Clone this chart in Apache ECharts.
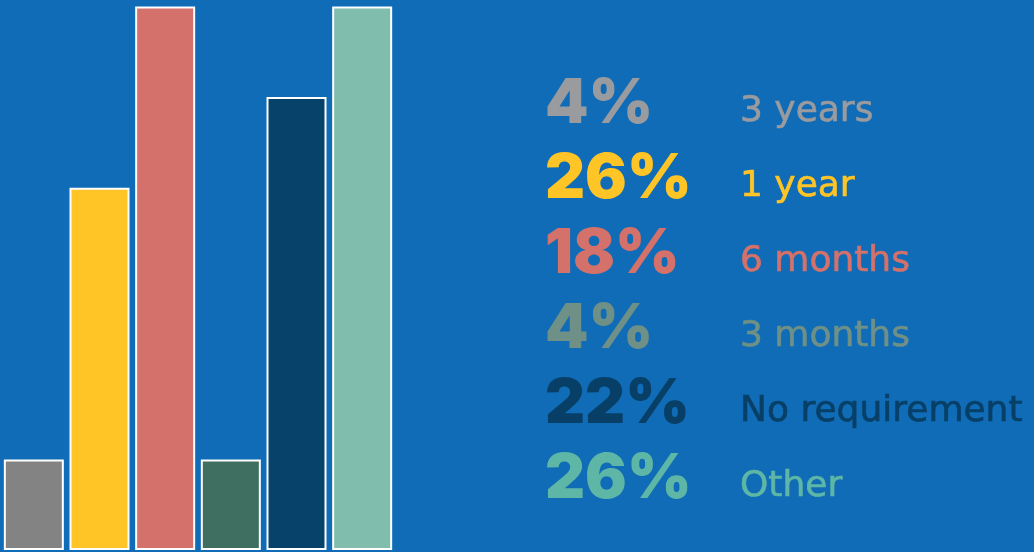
<!DOCTYPE html>
<html>
<head>
<meta charset="utf-8">
<script src="https://cdn.jsdelivr.net/npm/echarts@6/dist/echarts.min.js"></script>
<style>
  html, body { margin: 0; padding: 0; background: #106cb6; }
  #chart { width: 1034px; height: 552px; }
</style>
</head>
<body>
<div id="chart"></div>
<script>
// Answer categories, in bar order
const categories = ['3 years', '1 year', '6 months', '3 months', 'No requirement', 'Other'];
// Share of respondents per answer
const percents = [4, 26, 18, 4, 22, 26];
// Bar heights on the decorative 0–6 scale used by the column graphic
const barLevels = [1, 4, 6, 1, 5, 6];
// Bar fills and matching text colours
const barColors = ['#838383', '#ffc425', '#d4716a', '#3e6f60', '#07426a', '#80bdad'];
const textColors = ['#9a9b9f', '#ffc425', '#d4716a', '#6f9086', '#073f66', '#5eb7a6'];

const chart = echarts.init(document.getElementById('chart'), null, { renderer: 'canvas' });

const graphics = [];
categories.forEach((name, i) => {
  graphics.push({
    type: 'text',
    x: 545,
    y: 104 + 75 * i,
    style: {
      text: percents[i] + '%',
      fill: textColors[i],
      fontFamily: 'Inter',
      fontWeight: 900,
      fontSize: 62,
      align: 'left',
      verticalAlign: 'middle'
    }
  });
  graphics.push({
    type: 'text',
    x: 740,
    y: 112 + 75 * i,
    style: {
      text: name,
      fill: textColors[i],
      stroke: textColors[i],
      lineWidth: 0.6,
      fontFamily: 'DejaVu Sans',
      fontWeight: 'normal',
      fontSize: 36,
      align: 'left',
      verticalAlign: 'middle'
    }
  });
});

chart.setOption({
  backgroundColor: '#106cb6',
  animation: false,
  grid: { left: 1, width: 394, top: 6.5, bottom: 2 },
  xAxis: {
    type: 'category',
    data: categories,
    show: false
  },
  yAxis: {
    type: 'value',
    min: 0,
    max: 6,
    show: false
  },
  series: [{
    type: 'bar',
    barWidth: 60,
    data: barLevels.map((v, i) => ({
      value: v,
      itemStyle: { color: barColors[i] }
    })),
    itemStyle: { borderColor: '#ffffff', borderWidth: 2 }
  }],
  graphic: graphics
});
</script>
</body>
</html>
